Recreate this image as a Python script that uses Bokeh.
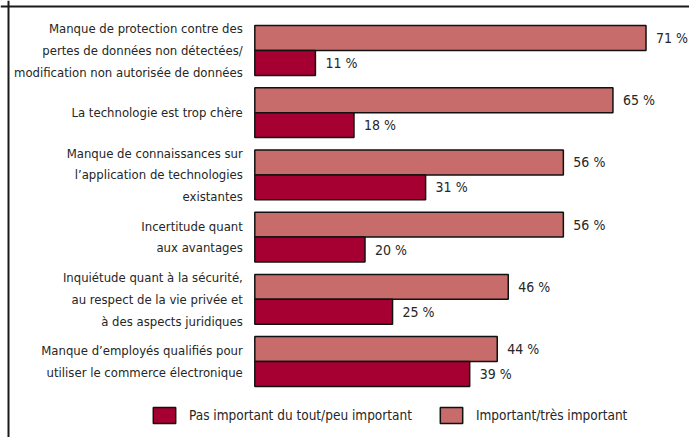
from bokeh.plotting import figure
from bokeh.models import ColumnDataSource, Range1d, Span, Legend, LegendItem
from bokeh.core.properties import value
from bokeh.embed import file_html
from bokeh.resources import INLINE

categories = [
    "Manque de protection contre des\npertes de données non détectées/\nmodification non autorisée de données",
    "La technologie est trop chère",
    "Manque de connaissances sur\nl’application de technologies\nexistantes",
    "Incertitude quant\naux avantages",
    "Inquiétude quant à la sécurité,\nau respect de la vie privée et\nà des aspects juridiques",
    "Manque d’employés qualifiés pour\nutiliser le commerce électronique",
]
important = [71, 65, 56, 56, 46, 44]
pas_important = [11, 18, 31, 20, 25, 39]
series_names = ["Pas important du tout/peu important", "Important/très important"]

FONT = "'DejaVu Sans Condensed', 'Liberation Sans Narrow', sans-serif"
LIGHT = "#C76B6B"
DARK = "#A60033"
TXT = "#262626"

W, H = 689, 437
PX_PER_UNIT = 5.51
BAR_LEFT_PX = 254.3
GROUP_PITCH = 62.2
FIRST_CENTER_PX = 50.0

idx = list(range(len(categories)))
src = ColumnDataSource(dict(
    cat=categories,
    yc=idx,
    y_imp=[i - 0.2 for i in idx],
    y_pas=[i + 0.2 for i in idx],
    imp=important,
    pas=pas_important,
    imp_lbl=[f"{v} %" for v in important],
    pas_lbl=[f"{v} %" for v in pas_important],
    zero=[0] * len(idx),
))

x_start = -BAR_LEFT_PX / PX_PER_UNIT
x_end = (W - BAR_LEFT_PX) / PX_PER_UNIT
y_top = -FIRST_CENTER_PX / GROUP_PITCH
y_bottom = (H - FIRST_CENTER_PX) / GROUP_PITCH

p = figure(width=W, height=H, output_backend="svg", toolbar_location=None,
           x_range=Range1d(x_start, x_end), y_range=Range1d(y_bottom, y_top),
           min_border=0, min_border_left=0, min_border_right=0,
           min_border_top=0, min_border_bottom=0)
p.axis.visible = False
p.grid.visible = False
p.outline_line_color = None
p.background_fill_color = "white"
p.border_fill_color = "white"

r_imp = p.hbar(y="y_imp", left="zero", right="imp", height=0.4, source=src,
               fill_color=LIGHT, line_color="#111111", line_width=1.5)
r_pas = p.hbar(y="y_pas", left="zero", right="pas", height=0.4, source=src,
               fill_color=DARK, line_color="#111111", line_width=1.5)

p.text(x="imp", y="y_imp", text="imp_lbl", source=src, x_offset=10,
       text_font=value(FONT), text_font_size="14px", text_color=TXT,
       text_baseline="middle", text_align="left")
p.text(x="pas", y="y_pas", text="pas_lbl", source=src, x_offset=10,
       text_font=value(FONT), text_font_size="14px", text_color=TXT,
       text_baseline="middle", text_align="left")

p.text(x="zero", y="yc", text="cat", source=src, x_offset=-12,
       text_font=value(FONT), text_font_size="13px", text_color=TXT,
       text_baseline="middle", text_align="right", text_line_height=1.45)

p.add_layout(Span(location=x_start + 8 / PX_PER_UNIT, dimension="height",
                  line_color="#1a1a1a", line_width=2))
p.add_layout(Span(location=y_top + 6 / GROUP_PITCH, dimension="width",
                  line_color="#1a1a1a", line_width=2))

legend = Legend(items=[LegendItem(label=series_names[0], renderers=[r_pas]),
                       LegendItem(label=series_names[1], renderers=[r_imp])],
                orientation="horizontal", location=(150, 12),
                glyph_width=28, glyph_height=20, label_standoff=11, spacing=25,
                padding=0, margin=0, border_line_color=None,
                background_fill_alpha=0, label_text_font=FONT,
                label_text_font_size="13.5px", label_text_color=TXT,
                label_height=20)
p.add_layout(legend, "center")

open("out.html", "w").write(file_html(p, INLINE))
